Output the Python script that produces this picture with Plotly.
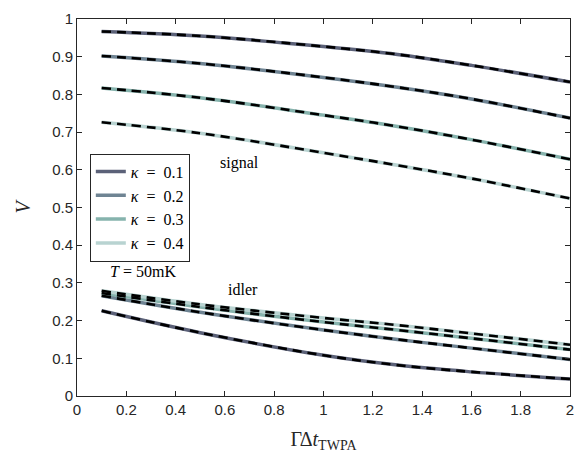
import plotly.graph_objects as go

x_vals = [0.1, 0.5, 1.0, 1.3, 1.6, 2.0]
kappas = ["0.1", "0.2", "0.3", "0.4"]
colors = ["#5b6178", "#6f8493", "#86b3ad", "#b8d3d1"]

signal = {
    "0.1": [0.967, 0.955, 0.927, 0.906, 0.877, 0.833],
    "0.2": [0.902, 0.882, 0.845, 0.819, 0.788, 0.737],
    "0.3": [0.817, 0.791, 0.745, 0.715, 0.680, 0.628],
    "0.4": [0.726, 0.697, 0.645, 0.612, 0.577, 0.524],
}
idler = {
    "0.1": [0.226, 0.168, 0.108, 0.082, 0.064, 0.045],
    "0.2": [0.266, 0.222, 0.175, 0.150, 0.127, 0.097],
    "0.3": [0.273, 0.236, 0.196, 0.175, 0.153, 0.123],
    "0.4": [0.279, 0.243, 0.207, 0.188, 0.166, 0.136],
}

x_ticks = [0, 0.2, 0.4, 0.6, 0.8, 1, 1.2, 1.4, 1.6, 1.8, 2]
y_ticks = [0, 0.1, 0.2, 0.3, 0.4, 0.5, 0.6, 0.7, 0.8, 0.9, 1]

serif = "Liberation Serif, DejaVu Serif, serif"
sans = "Liberation Sans, Arial, sans-serif"

fig = go.Figure()
for k, c in zip(kappas, colors):
    for data, show in ((signal, True), (idler, False)):
        fig.add_trace(go.Scatter(
            x=x_vals, y=data[k], mode="lines", line=dict(color=c, width=3.5, shape="spline"),
            name=f"<i>κ</i>\u2002=\u2002{k}", showlegend=show, legendgroup=k))
for k in kappas:
    for data in (signal, idler):
        fig.add_trace(go.Scatter(
            x=x_vals, y=data[k], mode="lines",
            line=dict(color="black", width=2.6, dash="9px,6px", shape="spline"),
            showlegend=False, hoverinfo="skip"))

axis_common = dict(
    showgrid=False, zeroline=False, showline=True, linecolor="#262626", linewidth=1,
    mirror="allticks", ticks="inside", ticklen=5, tickcolor="#262626",
    tickfont=dict(family=sans, size=15, color="#262626"),
)
fig.update_xaxes(range=[0, 2], tickvals=x_ticks, ticktext=[f"{v:g}" for v in x_ticks],
                 title=dict(text="ΓΔ<i>t</i><sub>TWPA</sub>", font=dict(family=serif, size=20, color="#262626"), standoff=14),
                 **axis_common)
fig.update_yaxes(range=[0, 1], tickvals=y_ticks, ticktext=[f"{v:g}" for v in y_ticks],
                 title=dict(text="<i>V</i>", font=dict(family=serif, size=20, color="#262626"), standoff=16),
                 **axis_common)

fig.add_annotation(x=0.66, y=0.618, text="signal", showarrow=False,
                   font=dict(family=serif, size=16, color="black"))
fig.add_annotation(x=0.672, y=0.282, text="idler", showarrow=False,
                   font=dict(family=serif, size=16, color="black"))
fig.add_annotation(x=0.267, y=0.331, text="<i>T</i> = 50mK", showarrow=False,
                   font=dict(family=serif, size=16, color="black"))

fig.update_layout(
    width=584, height=457,
    margin=dict(l=77, r=13, t=10, b=61),
    paper_bgcolor="white", plot_bgcolor="white",
    showlegend=True,
    legend=dict(x=0.026, y=0.643, xanchor="left", yanchor="top",
                bgcolor="white", bordercolor="#262626", borderwidth=1,
                font=dict(family=serif, size=16, color="black"),
                itemwidth=30, tracegroupgap=0),
)

fig.write_html("out.html")
